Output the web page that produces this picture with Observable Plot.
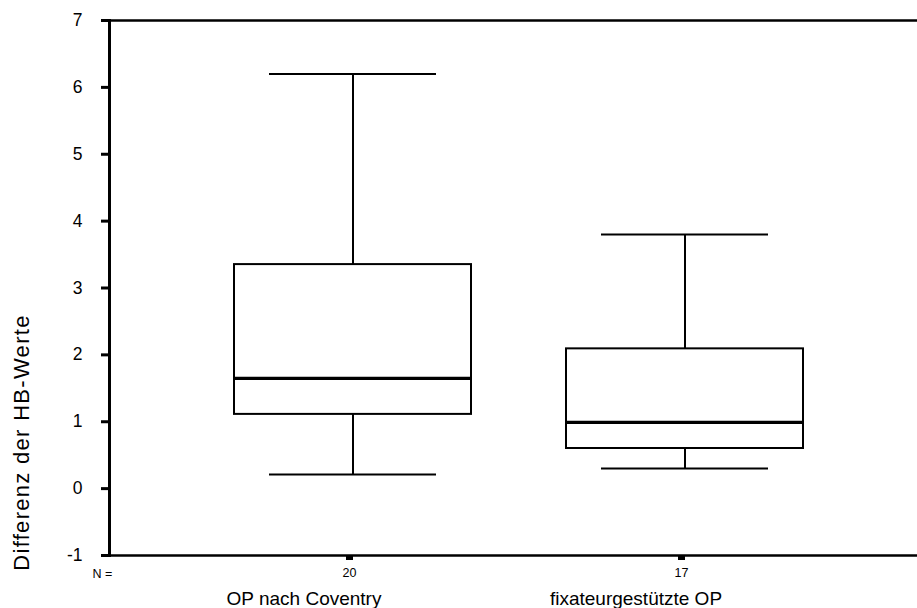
<!DOCTYPE html>
<html><head><meta charset="utf-8">
<script src="https://cdn.jsdelivr.net/npm/d3@7"></script>
<script src="https://cdn.jsdelivr.net/npm/@observablehq/plot@0.6"></script>
<style>
body{margin:0;background:#fff;}
</style></head><body><div id="chart"></div>
<script>
const categories = ["OP nach Coventry", "fixateurgestützte OP"];
const nCounts = [20, 17];
const whiskerLow = [0.21, 0.3];
const q1 = [1.11, 0.6];
const medians = [1.65, 0.99];
const q3 = [3.35, 2.09];
const whiskerHigh = [6.2, 3.8];
const yTicks = [-1, 0, 1, 2, 3, 4, 5, 6, 7];
const yLabel = "Differenz der HB-Werte";
const nLabel = "N =";

const rows = categories.map((c, i) => ({cat: c, n: nCounts[i], lo: whiskerLow[i], q1: q1[i], med: medians[i], q3: q3[i], hi: whiskerHigh[i]}));

const chart = Plot.plot({
  width: 917, height: 608,
  marginLeft: 109, marginRight: 0, marginTop: 20, marginBottom: 53,
  style: {fontFamily: "'Liberation Sans', Arial, sans-serif", background: "#fff", color: "#000"},
  x: {type: "band", domain: categories, range: [233, 804], paddingInner: 0.285, paddingOuter: 0},
  y: {domain: [-1, 7]},
  marks: [
    Plot.ruleY([-1, 7], {stroke: "#000", strokeWidth: 2.7}),
    Plot.frame({anchor: "left", stroke: "#000", strokeWidth: 3}),
    Plot.axisY(yTicks, {tickSize: 8, strokeWidth: 3, text: null, label: null, stroke: "#000"}),
    Plot.text(yTicks, {y: d => d, text: d => String(d), frameAnchor: "left", textAnchor: "end", dx: -27, fontSize: 17.5, fill: "#000"}),
    Plot.axisX({tickSize: 5, strokeWidth: 7, tickPadding: 8, fontSize: 12.5, dx: -3.5, label: null, stroke: "#000", fill: "#000",
      tickFormat: d => String(nCounts[categories.indexOf(d)])}),
    Plot.ruleX(rows, {x: "cat", y1: "lo", y2: "q1", stroke: "#000", strokeWidth: 2}),
    Plot.ruleX(rows, {x: "cat", y1: "q3", y2: "hi", stroke: "#000", strokeWidth: 2}),
    Plot.tickY(rows, {x: "cat", y: "lo", insetLeft: 35, insetRight: 35, stroke: "#000", strokeWidth: 2}),
    Plot.tickY(rows, {x: "cat", y: "hi", insetLeft: 35, insetRight: 35, stroke: "#000", strokeWidth: 2}),
    Plot.barY(rows, {x: "cat", y1: "q1", y2: "q3", fill: "none", stroke: "#000", strokeWidth: 2}),
    Plot.tickY(rows, {x: "cat", y: "med", stroke: "#000", strokeWidth: 3.2}),
    Plot.text(categories, {x: d => d, text: d => d, frameAnchor: "bottom", lineAnchor: "bottom", textAnchor: "middle", dx: -49, dy: 49, fontSize: 19, fill: "#000"}),
    Plot.text([nLabel], {text: d => d, frameAnchor: "bottom-left", lineAnchor: "bottom", textAnchor: "middle", dx: -7, dy: 22, fontSize: 12.5, fill: "#000"}),
    Plot.text([yLabel], {text: d => d, frameAnchor: "left", rotate: -90, lineAnchor: "bottom", textAnchor: "middle", dx: -81, dy: 154.5, fontSize: 22, fill: "#000"})
  ]
});
d3.select(chart).selectAll("text").filter(function() { return this.textContent === yLabel; }).style("letter-spacing", "1.3px");
document.getElementById("chart").appendChild(chart);
</script></body></html>
